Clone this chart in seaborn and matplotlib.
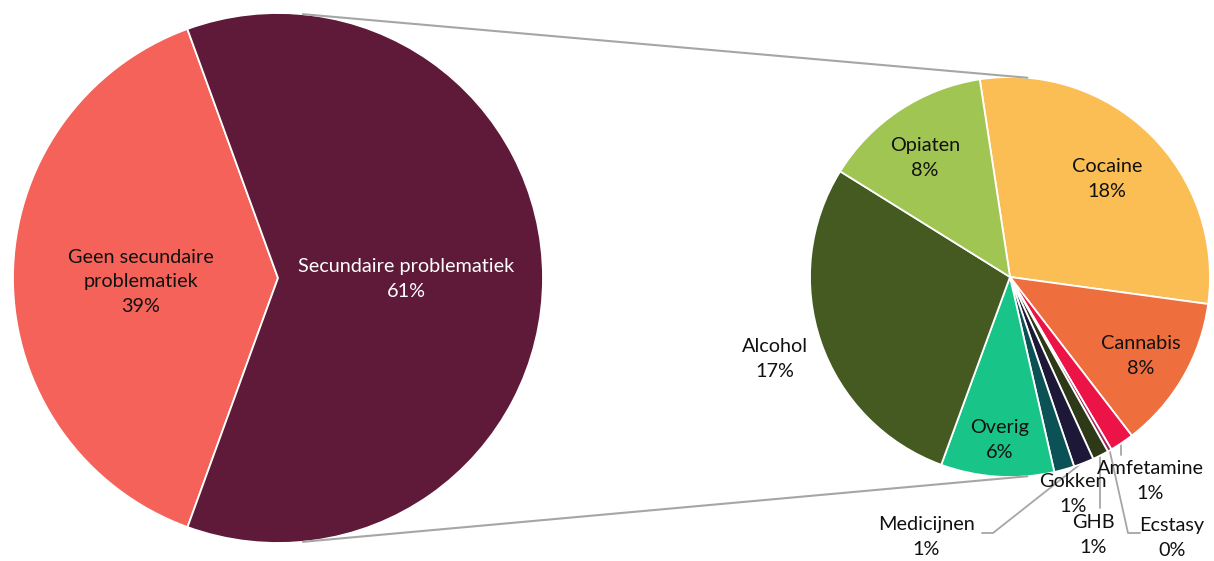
import numpy as np
import matplotlib
matplotlib.use("Agg")
import matplotlib.pyplot as plt
from matplotlib.patches import ConnectionPatch
import seaborn as sns

sns.set_theme(style="white")
plt.rcParams['font.family'] = ['Lato', 'DejaVu Sans']

# ---- data ----
main_labels = ["Geen secundaire\nproblematiek", "Secundaire problematiek"]
main_values = [38.9, 61.1]
main_colors = ["#F4625A", "#5E1A38"]

sub_labels = ["Cocaine", "Cannabis", "Amfetamine", "Ecstasy", "GHB",
              "Medicijnen", "Gokken", "Overig", "Alcohol", "Opiaten"]
sub_values = [18.1, 7.6, 1.2, 0.2, 0.8, 1.0, 1.0, 5.6, 17.3, 8.4]
sub_colors = ["#FBBE55", "#EE6E3E", "#EC1346", "#A0245F", "#2E3A17",
              "#1E1838", "#0A5256", "#18C487", "#445A20", "#A0C553"]

W, H = 1214, 561
fig = plt.figure(figsize=(W / 100, H / 100), dpi=100)

def add_pie_axes(cx, cy, r):
    return fig.add_axes([(cx - r) / W, (H - cy - r) / H, 2 * r / W, 2 * r / H])

axL = add_pie_axes(278, 278, 265)
axR = add_pie_axes(1010, 277, 200)

wedge_kw = dict(edgecolor="white", linewidth=1.3)
axL.pie(main_values, colors=main_colors, startangle=110, counterclock=True,
        radius=1, wedgeprops=wedge_kw)
axR.pie(sub_values, colors=sub_colors, startangle=98.7, counterclock=False,
        radius=1, wedgeprops=wedge_kw)
for ax in (axL, axR):
    ax.set_xlim(-1, 1)
    ax.set_ylim(-1, 1)
    ax.set_aspect("equal")
    ax.axis("off")

fs = 14.3
txt_kw = dict(ha="center", va="center", fontsize=fs, linespacing=1.55)

def lpos(px, py):
    return ((px - 278) / 265, (278 - py) / 265)

def rpos(px, py):
    return ((px - 1010) / 200, (277 - py) / 200)

main_pos = [lpos(141, 282), lpos(406, 279)]
main_txt_colors = ["#111111", "white"]
for lab, v, p, c in zip(main_labels, main_values, main_pos, main_txt_colors):
    axL.text(p[0], p[1], f"{lab}\n{round(v):.0f}%", color=c, **txt_kw)

sub_pos = {
    "Cocaine": (1107, 179), "Cannabis": (1141, 356), "Amfetamine": (1150, 481),
    "Ecstasy": (1172, 538), "GHB": (1093, 535), "Medicijnen": (926, 537),
    "Gokken": (1073, 494), "Overig": (1000, 440), "Alcohol": (775, 359),
    "Opiaten": (925, 158),
}
for lab, v in zip(sub_labels, sub_values):
    p = rpos(*sub_pos[lab])
    axR.text(p[0], p[1], f"{lab}\n{round(v):.0f}%", color="#111111", **txt_kw)

# leader lines for small slices (pixel paths)
gray = "#A6A6A6"
leaders = [
    [(1121, 445), (1121, 455)],                    # Amfetamine
    [(1110, 452), (1128, 533), (1140, 533)],       # Ecstasy
    [(1100, 457), (1100, 508)],                    # GHB
    [(1083, 462), (993, 533), (982, 533)],         # Medicijnen
]
for path in leaders:
    xs, ys = zip(*[rpos(*p) for p in path])
    axR.plot(xs, ys, color=gray, lw=1.3, clip_on=False, zorder=0.5)

# connector lines between the pies
for sgn in (1, -1):
    a = np.deg2rad(84.6)
    b = np.deg2rad(85.0)
    con = ConnectionPatch(xyA=(np.cos(a), sgn * np.sin(a)), coordsA=axL.transData,
                          xyB=(np.cos(b), sgn * np.sin(b)), coordsB=axR.transData,
                          color=gray, lw=1.5)
    fig.add_artist(con)

fig.savefig("out.png", dpi=100)
